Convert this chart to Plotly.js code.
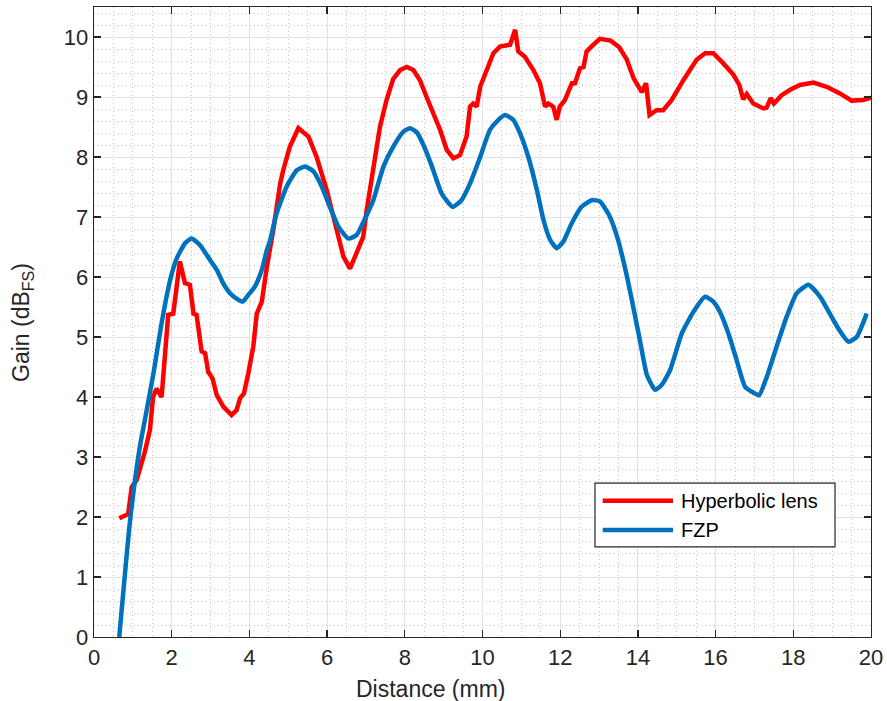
<!DOCTYPE html>
<html>
<head>
<meta charset="utf-8">
<script src="https://cdn.plot.ly/plotly-3.0.1.min.js"></script>
<style>html,body{margin:0;padding:0;background:#fff;}#chart{width:887px;height:701px;}</style>
</head>
<body>
<div id="chart"></div>
<script>
// Hyperbolic lens
const lensX = [0.65,0.80,0.88,0.97,1.10,1.31,1.44,1.52,1.61,1.74,1.91,2.04,2.21,2.34,2.47,2.56,2.64,2.77,2.86,2.94,3.05,3.16,3.33,3.54,3.67,3.76,3.86,3.97,4.10,4.19,4.32,4.45,4.62,4.79,4.87,5.04,5.26,5.52,5.73,5.99,6.25,6.42,6.59,6.76,6.93,7.02,7.19,7.36,7.53,7.70,7.88,8.05,8.22,8.39,8.56,8.73,8.91,9.08,9.25,9.42,9.59,9.68,9.76,9.85,9.94,10.11,10.28,10.45,10.71,10.84,10.92,11.09,11.31,11.48,11.61,11.69,11.82,11.91,11.99,12.12,12.30,12.38,12.51,12.60,12.68,12.85,13.02,13.30,13.52,13.71,13.89,14.10,14.21,14.30,14.48,14.65,14.87,15.17,15.51,15.73,15.94,16.20,16.46,16.61,16.71,16.80,16.97,17.23,17.31,17.42,17.50,17.70,17.92,18.17,18.52,18.86,19.20,19.50,19.80,20.00];
const lensY = [1.98,2.03,2.05,2.50,2.62,3.09,3.45,4.00,4.14,4.00,5.37,5.39,6.26,5.90,5.87,5.39,5.37,4.76,4.73,4.42,4.31,4.03,3.84,3.70,3.78,3.98,4.06,4.39,4.84,5.39,5.59,6.17,6.80,7.55,7.78,8.17,8.48,8.34,8.00,7.45,6.73,6.34,6.14,6.39,6.67,7.12,7.84,8.50,8.95,9.30,9.45,9.50,9.45,9.28,9.00,8.73,8.45,8.12,7.98,8.03,8.34,8.84,8.89,8.84,9.17,9.45,9.73,9.84,9.87,10.12,9.76,9.67,9.45,9.23,8.84,8.89,8.84,8.62,8.84,8.95,9.23,9.23,9.48,9.50,9.76,9.87,9.97,9.94,9.83,9.63,9.31,9.08,9.23,8.70,8.78,8.78,8.95,9.28,9.62,9.73,9.73,9.56,9.37,9.20,8.96,9.05,8.89,8.81,8.82,8.98,8.89,9.03,9.12,9.20,9.24,9.17,9.06,8.94,8.95,8.99];
// FZP
const fzpX = [0.65,0.93,1.18,1.31,1.53,1.74,1.96,2.13,2.34,2.51,2.73,2.99,3.16,3.33,3.50,3.67,3.83,3.97,4.14,4.32,4.45,4.53,4.70,4.96,5.22,5.43,5.65,5.86,6.07,6.29,6.55,6.76,6.98,7.19,7.45,7.70,7.96,8.13,8.31,8.48,8.70,8.95,9.23,9.46,9.68,9.94,10.19,10.41,10.58,10.79,10.97,11.18,11.40,11.57,11.74,11.91,12.08,12.30,12.55,12.81,13.02,13.26,13.48,13.69,13.88,14.05,14.23,14.44,14.61,14.83,15.13,15.43,15.73,15.94,16.11,16.33,16.54,16.76,17.01,17.12,17.32,17.57,17.83,18.09,18.39,18.69,18.94,19.16,19.42,19.63,19.89];
const fzpY = [0.00,1.95,3.17,3.62,4.39,5.23,5.95,6.31,6.56,6.64,6.53,6.28,6.12,5.89,5.73,5.64,5.59,5.70,5.84,6.12,6.45,6.60,7.06,7.51,7.78,7.84,7.76,7.51,7.17,6.84,6.64,6.70,6.98,7.28,7.84,8.17,8.42,8.48,8.41,8.20,7.84,7.39,7.17,7.28,7.56,8.00,8.45,8.62,8.70,8.62,8.39,8.00,7.45,6.95,6.62,6.48,6.59,6.90,7.17,7.28,7.26,7.03,6.64,6.09,5.50,4.95,4.37,4.12,4.20,4.45,5.06,5.42,5.67,5.59,5.42,5.06,4.62,4.17,4.06,4.03,4.34,4.84,5.34,5.73,5.87,5.67,5.39,5.14,4.92,5.00,5.39];

const seriesNames = ['Hyperbolic lens', 'FZP'];
const seriesColors = ['#FF0000', '#0072BD'];
const xTicks = [0,2,4,6,8,10,12,14,16,18,20];
const yTicks = [0,1,2,3,4,5,6,7,8,9,10];

const FONT = 'Arial, "Liberation Sans", sans-serif';
const AXC = '#262626';

const traces = [
  {x: lensX, y: lensY, type: 'scatter', mode: 'lines', name: seriesNames[0],
   line: {color: seriesColors[0], width: 4.5}, showlegend: false},
  {x: fzpX, y: fzpY, type: 'scatter', mode: 'lines', name: seriesNames[1],
   line: {color: seriesColors[1], width: 4.5, shape: 'spline', smoothing: 0.5}, showlegend: false}
];

const axisCommon = {
  showline: true, linecolor: AXC, linewidth: 1.3, mirror: 'ticks',
  ticks: 'inside', ticklen: 7, tickcolor: AXC, tickwidth: 1.3,
  showgrid: true, gridcolor: '#e2e2e2', gridwidth: 1,
  zeroline: false,
  tickfont: {family: FONT, size: 22, color: AXC}
};
const minorGrid = {showgrid: true, gridcolor: '#c4c4c4', griddash: '1px,3px', gridwidth: 1, ticks: ''};

// custom legend (paper coordinates)
const lg = {x0: 0.6448, x1: 0.9537, y0: 0.1429, y1: 0.2444, lx0: 0.6547, lx1: 0.7452, tx: 0.7529, rows: [0.2163, 0.1698]};
const shapes = [
  {type: 'rect', xref: 'paper', yref: 'paper', x0: lg.x0, x1: lg.x1, y0: lg.y0, y1: lg.y1,
   line: {color: AXC, width: 1.2}, fillcolor: '#ffffff', layer: 'above'}
];
const annotations = [];
seriesNames.forEach((n, i) => {
  shapes.push({type: 'line', xref: 'paper', yref: 'paper', x0: lg.lx0, x1: lg.lx1, y0: lg.rows[i], y1: lg.rows[i],
    line: {color: seriesColors[i], width: 4.5}, layer: 'above'});
  annotations.push({xref: 'paper', yref: 'paper', x: lg.tx, y: lg.rows[i], xanchor: 'left', yanchor: 'middle',
    text: n, showarrow: false, font: {family: FONT, size: 20, color: '#000'}});
});
annotations.push({xref: 'paper', yref: 'paper', x: 0.4337, y: -0.0825, xanchor: 'center', yanchor: 'middle',
  text: 'Distance (mm)', showarrow: false, font: {family: FONT, size: 23, color: AXC}});
annotations.push({xref: 'paper', yref: 'paper', x: -0.0927, y: 0.5, xanchor: 'center', yanchor: 'middle', textangle: -90,
  text: 'Gain (dB<sub>FS</sub>)', showarrow: false, font: {family: FONT, size: 23, color: AXC}});

const layout = {
  width: 887, height: 701,
  margin: {l: 94, r: 16, t: 7, b: 64},
  paper_bgcolor: '#ffffff', plot_bgcolor: '#ffffff',
  showlegend: false,
  xaxis: Object.assign({}, axisCommon, {
    range: [0, 20], tickvals: xTicks, ticktext: xTicks.map(String),
    minor: Object.assign({dtick: 0.5}, minorGrid)
  }),
  yaxis: Object.assign({}, axisCommon, {
    range: [0, 10.5], tickvals: yTicks, ticktext: yTicks.map(String),
    minor: Object.assign({dtick: 0.2}, minorGrid)
  }),
  shapes: shapes,
  annotations: annotations
};

Plotly.newPlot('chart', traces, layout, {staticPlot: true, displayModeBar: false});
</script>
</body>
</html>
